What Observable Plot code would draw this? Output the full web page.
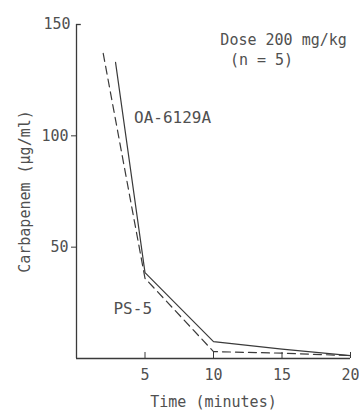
<!DOCTYPE html>
<html>
<head>
<meta charset="utf-8">
<script src="https://cdn.jsdelivr.net/npm/d3@7"></script>
<script src="https://cdn.jsdelivr.net/npm/@observablehq/plot@0.6"></script>
<style>
  html, body { margin: 0; padding: 0; background: #fff; }
  #chart svg { display: block; }
</style>
</head>
<body>
<div id="chart"></div>
<script>
// Data
const oaTimes = [2.85, 5, 10, 15, 20];
const oaValues = [133, 38.6, 7.6, 4.2, 1.3];
const psTimes = [1.95, 5, 10, 15, 20];
const psValues = [137, 36, 3.1, 2.4, 1.3];
const xTicks = [5, 10, 15, 20];
const yTicks = [50, 100];
const yTopTick = [150];
const seriesLabels = ["OA-6129A", "PS-5"];
const doseText = ["Dose 200 mg/kg", "(n = 5)"];

const oa = oaTimes.map((t, i) => ({t, v: oaValues[i]}));
const ps = psTimes.map((t, i) => ({t, v: psValues[i]}));

const font = "DejaVu Sans Mono";
const ink = "#3a3a3a";
const txt = "#505050";

const chart = Plot.plot({
  width: 359,
  height: 413,
  marginLeft: 76,
  marginRight: 9,
  marginTop: 24,
  marginBottom: 55,
  style: {fontFamily: font, fontSize: "15px", color: txt, background: "#fff"},
  x: {domain: [0, 20]},
  y: {domain: [0, 150]},
  marks: [
    Plot.axisY({ticks: yTicks, tickSize: 5, tickPadding: 3, fontSize: 15, stroke: ink, fill: txt,
      label: "Carbapenem (µg/ml)", labelAnchor: "center", labelArrow: "none", labelOffset: 57}),
    Plot.axisY({ticks: yTopTick, tickSize: 0, tickPadding: 6, fontSize: 15, fill: txt, label: null}),
    Plot.axisX({ticks: xTicks, tickSize: 0, tickPadding: 11, fontSize: 15, fill: txt,
      label: "Time (minutes)", labelAnchor: "center", labelArrow: "none", labelOffset: 48}),
    Plot.ruleX(xTicks, {x: d => d, y1: 0, y2: 2.7, stroke: ink, strokeWidth: 1}),
    Plot.ruleX([0], {stroke: ink, strokeWidth: 1.3}),
    Plot.ruleY([0], {stroke: ink, strokeWidth: 1.3}),
    Plot.ruleY(yTopTick, {x1: 0, x2: 0.35, stroke: ink, strokeWidth: 1.3}),
    Plot.line(oa, {x: "t", y: "v", stroke: ink, strokeWidth: 1.2}),
    Plot.line(ps, {x: "t", y: "v", stroke: ink, strokeWidth: 1.2, strokeDasharray: "8,5"}),
    Plot.text([seriesLabels[0]], {x: 4.2, y: 108, text: d => d, textAnchor: "start", fontSize: 16, fill: txt}),
    Plot.text([seriesLabels[1]], {x: 2.7, y: 22.5, text: d => d, textAnchor: "start", fontSize: 16, fill: txt}),
    Plot.text([doseText[0]], {x: 10.5, y: 143, text: d => d, textAnchor: "start", fontSize: 15, fill: txt}),
    Plot.text([doseText[1]], {x: 11.2, y: 134, text: d => d, textAnchor: "start", fontSize: 15, fill: txt})
  ]
});
document.getElementById("chart").appendChild(chart);
</script>
</body>
</html>
